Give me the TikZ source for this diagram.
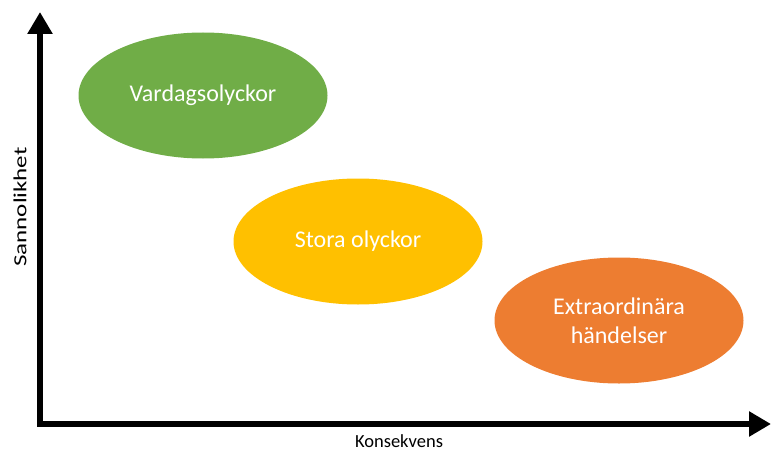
\documentclass[tikz,border=0pt]{standalone}
\usepackage{fontspec}
\setmainfont{Carlito}
\usetikzlibrary{arrows.meta,shapes.geometric}
\definecolor{cgreen}{HTML}{70AD47}
\definecolor{cyellow}{HTML}{FFC000}
\definecolor{corange}{HTML}{ED7D31}
\begin{document}
\begin{tikzpicture}[x=1pt,y=-1pt,
  blob/.style={ellipse, minimum width=249pt, minimum height=126pt, inner sep=0pt, align=center, text=white, font=\fontsize{24}{29}\selectfont},
  axis/.style={line width=6pt, line join=miter, {Triangle[length=22pt,width=24pt]}-{Triangle[length=22pt,width=24pt]}},
  axlabel/.style={font=\fontsize{18.5}{22}\selectfont, text=black}]
\useasboundingbox (0,0) rectangle (771,452);
\coordinate (top) at (40,12);
\coordinate (origin) at (40,424);
\coordinate (right) at (771,424);
\draw[axis] (top) -- (origin) -- (right);
\node[blob, fill=cgreen] (vard) at (203,95.5) {Vardagsolyckor};
\node[blob, fill=cyellow] (stora) at (358,241.5) {Stora olyckor};
\node[blob, fill=corange] (extra) at (619,320.5) {Extraordinära\\händelser};
\node[axlabel, rotate=90] (sann) at (20,207) {\scalebox{1.35}[1]{Sannolikhet}};
\node[axlabel] (kons) at (399,441) {Konsekvens};
\end{tikzpicture}
\end{document}
